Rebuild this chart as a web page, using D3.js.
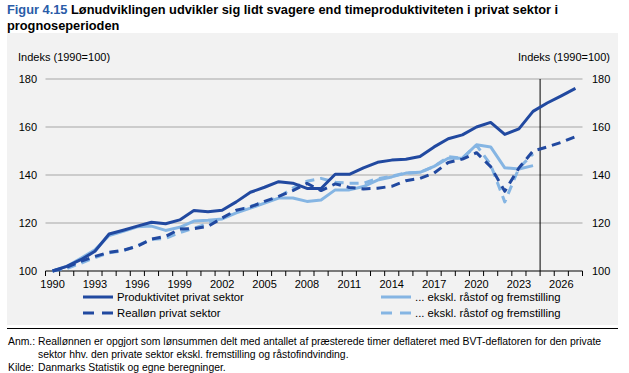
<!DOCTYPE html>
<html>
<head>
<meta charset="utf-8">
<script src="https://cdn.jsdelivr.net/npm/d3@7"></script>
<style>
  body { margin: 0; background: #fff; font-family: "Liberation Sans", Arial, sans-serif; }
  svg text { font-family: "Liberation Sans", Arial, sans-serif; }
</style>
</head>
<body>
<div id="chart"></div>
<script>
/*****  Data  *****/
const years = d3.range(1990, 2028);
const tickYears = d3.range(1990, 2028, 3);
const yTicks = [100, 120, 140, 160, 180];

// Produktivitet privat sektor
const prodPrivat = [100, 101.9, 104.7, 108.2, 115.4, 117, 118.7, 120.3, 119.7, 121.3,
  125.2, 124.7, 125.3, 128.8, 132.8, 134.9, 137.2, 136.6, 134.4, 134.4,
  140.3, 140.3, 143, 145.3, 146.2, 146.6, 147.7, 151.7, 155.1, 156.7,
  160, 161.9, 156.9, 159.2, 166.5, 170, 173, 176.1];
// Realløn privat sektor
const realPrivat = [100, 101.5, 104, 106.1, 107.8, 108.6, 110.3, 113.3, 114.4, 117.5,
  117.6, 118.6, 122.1, 125.3, 126.7, 129, 131.1, 133.5, 136.5, 133.5,
  136.3, 134.8, 134.2, 134.5, 135.3, 137.6, 138.6, 140.8, 145.2, 146.6,
  149.3, 143.5, 133.2, 142.9, 150, 151.7, 153.6, 156];
// Produktivitet ekskl. råstof og fremstilling
const prodEkskl = [100, 101.9, 105.3, 108.8, 114.8, 116.5, 118.4, 118.7, 116.9, 118.2,
  120.8, 121.1, 121.7, 124.2, 126.2, 128.3, 130.4, 130.4, 129, 129.6,
  133.8, 133.8, 135.2, 137.9, 139.2, 140.8, 141.1, 143.6, 147, 147,
  152.6, 151.7, 143, 142.5, 143.9];
// Realløn ekskl. råstof og fremstilling
const realEkskl = [100, 101, 103.2, 105.6, 107.6, 108.4, 110.6, 113.2, 113.6, 116,
  117.8, 119.8, 122, 124.6, 127, 128.6, 130.8, 134.5, 137.4, 138.6,
  137, 136.6, 136.6, 138.5, 139.5, 140.8, 141.1, 143.6, 147.6, 147,
  152.4, 144.3, 128.8, 142.9, 148.8];

const legendItems = [
  { label: "Produktivitet privat sektor", data: prodPrivat, color: "#2149a0", dash: null, col: 0, row: 0 },
  { label: "Realløn privat sektor", data: realPrivat, color: "#2149a0", dash: "9,6", col: 0, row: 1 },
  { label: "... ekskl. råstof og fremstilling", data: prodEkskl, color: "#85b5e3", dash: null, col: 1, row: 0 },
  { label: "... ekskl. råstof og fremstilling", data: realEkskl, color: "#85b5e3", dash: "9,6", col: 1, row: 1 }
];

/*****  Layout  *****/
const width = 629;
const height = 373;
const plotLeft = 45.5;
const plotRight = 582.5;
const plotTop = 79;
const plotBottom = 271;

const svg = d3.select('#chart')
  .append('svg')
    .attr('width', width)
    .attr('height', height)
    .attr('viewBox', [0, 0, width, height]);

// Title
const title = svg.append('text')
  .attr('x', 7)
  .attr('y', 14)
  .attr('font-size', 12.8)
  .attr('font-weight', 'bold');
title.append('tspan').attr('fill', '#2a5ca8').text('Figur 4.15');
title.append('tspan').attr('fill', '#000').text('  Lønudviklingen udvikler sig lidt svagere end timeproduktiviteten i privat sektor i');
svg.append('text')
  .attr('x', 7)
  .attr('y', 30)
  .attr('font-size', 12.8)
  .attr('font-weight', 'bold')
  .text('prognoseperioden');

// Grey panel
svg.append('rect')
  .attr('x', 7)
  .attr('y', 33)
  .attr('width', 611)
  .attr('height', 292)
  .attr('fill', '#f2f2f2');

// Scales
const x = d3.scaleBand()
  .domain(years)
  .range([plotLeft, plotRight]);
const y = d3.scaleLinear()
  .domain([100, 180])
  .range([plotBottom, plotTop]);

// Gridlines
svg.append('g')
  .selectAll('line')
  .data(yTicks.filter(d => d > 100))
  .join('line')
    .attr('x1', plotLeft)
    .attr('x2', plotRight)
    .attr('y1', d => y(d))
    .attr('y2', d => y(d))
    .attr('stroke', '#a6a6a6')
    .attr('stroke-width', 1);

// Y tick labels both sides
svg.append('g')
  .selectAll('text')
  .data(yTicks)
  .join('text')
    .attr('x', 37)
    .attr('y', d => y(d) + 4)
    .attr('text-anchor', 'end')
    .attr('font-size', 11)
    .text(d => d);
svg.append('g')
  .selectAll('text')
  .data(yTicks)
  .join('text')
    .attr('x', 592)
    .attr('y', d => y(d) + 4)
    .attr('font-size', 11)
    .text(d => d);

// Axis titles
svg.append('text')
  .attr('x', 18)
  .attr('y', 61)
  .attr('font-size', 11)
  .text('Indeks (1990=100)');
svg.append('text')
  .attr('x', 610)
  .attr('y', 61)
  .attr('text-anchor', 'end')
  .attr('font-size', 11)
  .text('Indeks (1990=100)');

// Forecast divider (between 2024 and 2025)
svg.append('line')
  .attr('x1', x(2025))
  .attr('x2', x(2025))
  .attr('y1', plotTop)
  .attr('y2', plotBottom)
  .attr('stroke', '#000')
  .attr('stroke-width', 1);

// X axis with ticks between categories
const xAxis = svg.append('g').attr('transform', `translate(0,${plotBottom})`);
xAxis.append('line')
  .attr('x1', plotLeft)
  .attr('x2', plotRight)
  .attr('stroke', '#000')
  .attr('stroke-width', 1.2);
xAxis.selectAll('.tick-mark')
  .data(years.concat([2028]))
  .join('line')
    .attr('class', 'tick-mark')
    .attr('x1', d => d === 2028 ? plotRight : x(d))
    .attr('x2', d => d === 2028 ? plotRight : x(d))
    .attr('y1', 0)
    .attr('y2', 5)
    .attr('stroke', '#000');
xAxis.selectAll('.tick-label')
  .data(tickYears)
  .join('text')
    .attr('class', 'tick-label')
    .attr('x', d => x(d) + x.bandwidth() / 2)
    .attr('y', 17)
    .attr('text-anchor', 'middle')
    .attr('font-size', 11)
    .text(d => d);

// Lines
const line = d3.line()
  .x((d, i) => x(years[i]) + x.bandwidth() / 2)
  .y(d => y(d));

const drawOrder = [2, 3, 1, 0];
svg.append('g')
  .selectAll('path')
  .data(drawOrder.map(i => legendItems[i]))
  .join('path')
    .attr('d', d => line(d.data))
    .attr('fill', 'none')
    .attr('stroke', d => d.color)
    .attr('stroke-width', 3)
    .attr('stroke-dasharray', d => d.dash)
    .attr('stroke-linejoin', 'round');

// Legend
const legendX = [83, 381];
const legendY = [297, 313];
const legend = svg.append('g')
  .selectAll('g')
  .data(legendItems)
  .join('g')
    .attr('transform', d => `translate(${legendX[d.col]},${legendY[d.row]})`);
legend.append('line')
  .attr('x1', 0)
  .attr('x2', 30)
  .attr('stroke', d => d.color)
  .attr('stroke-width', 3)
  .attr('stroke-dasharray', d => d.dash ? '11,8' : null);
legend.append('text')
  .attr('x', 34)
  .attr('y', 4)
  .attr('font-size', 11.3)
  .text(d => d.label);

// Footer
svg.append('line')
  .attr('x1', 7)
  .attr('x2', 618)
  .attr('y1', 328.5)
  .attr('y2', 328.5)
  .attr('stroke', '#000')
  .attr('stroke-width', 1);

const notes = [
  { lead: 'Anm.:', text: 'Reallønnen er opgjort som lønsummen delt med antallet af præsterede timer deflateret med BVT-deflatoren for den private', y: 345 },
  { lead: '', text: 'sektor hhv. den private sektor ekskl. fremstilling og råstofindvinding.', y: 358 },
  { lead: 'Kilde:', text: 'Danmarks Statistik og egne beregninger.', y: 371 }
];
const noteG = svg.append('g')
  .selectAll('g')
  .data(notes)
  .join('g');
noteG.append('text')
  .attr('x', 8)
  .attr('y', d => d.y)
  .attr('font-size', 10.4)
  .text(d => d.lead);
noteG.append('text')
  .attr('x', 38)
  .attr('y', d => d.y)
  .attr('font-size', 10.4)
  .text(d => d.text);
</script>
</body>
</html>
